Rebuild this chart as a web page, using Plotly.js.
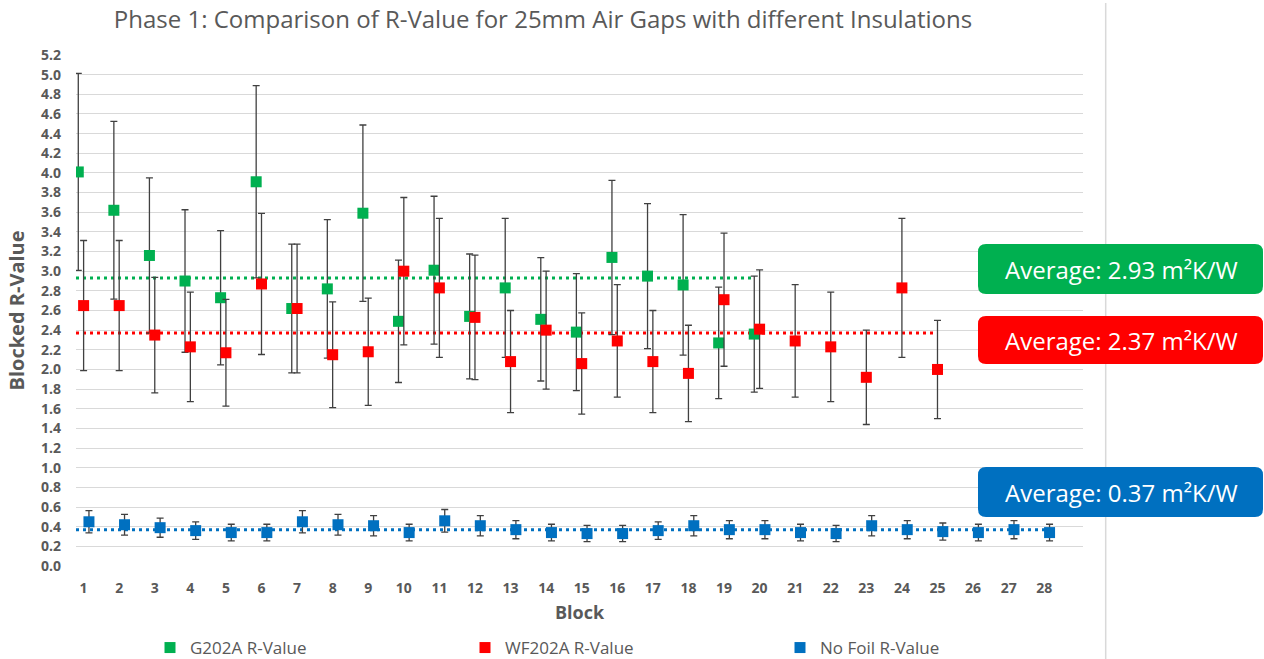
<!DOCTYPE html>
<html>
<head>
<meta charset="utf-8">
<script src="https://cdn.plot.ly/plotly-3.0.1.min.js"></script>
<style>html,body{margin:0;padding:0;background:#fff;}#chart{width:1264px;height:659px;}</style>
</head>
<body>
<div id="chart"></div>
<script>
// ---- data ----
const blocks = [1,2,3,4,5,6,7,8,9,10,11,12,13,14,15,16,17,18,19,20,21,22,23,24,25,26,27,28];
const tickLabels = ["1","2","3","4","5","6","7","8","9","10","11","12","13","14","15","16","17","18","19","20","21","22","23","24","25","26","27","28"];
const g202a = [4.01,3.62,3.16,2.90,2.73,3.91,2.62,2.82,3.59,2.49,3.01,2.54,2.83,2.51,2.38,3.14,2.95,2.86,2.27,2.36];
const wf202a = [2.65,2.65,2.35,2.23,2.17,2.87,2.62,2.15,2.18,3.00,2.83,2.53,2.08,2.40,2.06,2.29,2.08,1.96,2.71,2.41,2.29,2.23,1.92,2.83,2.00];
const noFoil = [0.45,0.42,0.39,0.36,0.34,0.34,0.45,0.42,0.41,0.34,0.46,0.41,0.37,0.34,0.33,0.33,0.36,0.41,0.37,0.37,0.34,0.33,0.41,0.37,0.35,0.34,0.37,0.34];
const errorPercent = 25;
const avgG202A = 2.93, avgWF202A = 2.37, avgNoFoil = 0.37;
const seriesNames = ["G202A R-Value","WF202A R-Value","No Foil R-Value"];
const avgLabels = ["Average: 2.93 m²K/W","Average: 2.37 m²K/W","Average: 0.37 m²K/W"];

// ---- style ----
const GREEN = "#00B050", RED = "#FF0000", BLUE = "#0070C0";
const GRAY = "#595959";
const FONT = "Open Sans, sans-serif";
const XMIN = 0.786, XMAX = 29.09;
const off = [-0.15, 0, 0.15];

function xs(vals, o){ return vals.map((v,i)=>blocks[i]+o); }
function avgLine(vals, o, avg, color){
  const x = xs(vals,o);
  return {x:[XMIN, x[x.length-1]], y:[avg,avg], mode:"lines", type:"scatter", showlegend:false, hoverinfo:"skip",
    line:{color:color, width:3, dash:"3px,4px"}};
}
function series(vals, o, name, color){
  return {x:xs(vals,o), y:vals, name:name, type:"scatter", mode:"markers",
    marker:{symbol:"square", size:11, color:color},
    error_y:{type:"percent", value:errorPercent, color:"#404040", thickness:1.3, width:3.5}};
}

const traces = [
  avgLine(g202a, off[0], avgG202A, GREEN),
  avgLine(wf202a, off[1], avgWF202A, RED),
  avgLine(noFoil, off[2], avgNoFoil, BLUE),
  series(g202a, off[0], seriesNames[0], GREEN),
  series(wf202a, off[1], seriesNames[1], RED),
  series(noFoil, off[2], seriesNames[2], BLUE)
];

// pixel -> paper helpers (plot area: x 76..1083, y 55..566)
const L=76, T=55, W=1007, H=511;
const px = p => (p-L)/W, py = p => (T+H-p)/H;
function roundRect(x0,y0,x1,y1,r){
  return "M"+px(x0+r)+","+py(y0)+" L"+px(x1-r)+","+py(y0)+
    " Q"+px(x1)+","+py(y0)+" "+px(x1)+","+py(y0+r)+
    " L"+px(x1)+","+py(y1-r)+
    " Q"+px(x1)+","+py(y1)+" "+px(x1-r)+","+py(y1)+
    " L"+px(x0+r)+","+py(y1)+
    " Q"+px(x0)+","+py(y1)+" "+px(x0)+","+py(y1-r)+
    " L"+px(x0)+","+py(y0+r)+
    " Q"+px(x0)+","+py(y0)+" "+px(x0+r)+","+py(y0)+" Z";
}
const boxes = [[244,294,GREEN],[316,364,RED],[467,517,BLUE]];
const shapes = [
  {type:"line", xref:"paper", yref:"paper", x0:px(1105.7), x1:px(1105.7), y0:py(3), y1:py(659), line:{color:"#d9d9d9", width:1.5}}
];
const annotations = [];
boxes.forEach((b,i)=>{
  shapes.push({type:"path", xref:"paper", yref:"paper", path:roundRect(978,b[0],1263,b[1],8), fillcolor:b[2], line:{width:0}});
  annotations.push({xref:"paper", yref:"paper", x:px(1121), y:py((b[0]+b[1])/2), text:avgLabels[i], showarrow:false,
    xanchor:"center", yanchor:"middle", font:{family:FONT, size:24, color:"#ffffff"}});
});

const layout = {
  width:1264, height:659,
  margin:{l:L, r:1264-L-W, t:T, b:659-T-H, autoexpand:false},
  paper_bgcolor:"#fff", plot_bgcolor:"#fff",
  showlegend:true,
  title:{text:"Phase 1: Comparison of R-Value for 25mm Air Gaps with different Insulations",
    xref:"container", x:543/1264, xanchor:"center", yref:"container", y:1-20/659, yanchor:"middle",
    font:{family:FONT, size:24, color:GRAY}},
  xaxis:{range:[XMIN,XMAX], tickvals:blocks, ticktext:tickLabels, showgrid:false, zeroline:false, showline:false,
    automargin:false, ticks:"", ticklabelstandoff:12, tickfont:{family:FONT, size:14, color:GRAY, weight:"bold"},
    title:{text:"Block", standoff:10, font:{family:FONT, size:18, color:GRAY, weight:"bold"}}},
  yaxis:{range:[0,5.2], dtick:0.2, tick0:0, tickformat:".1f", showgrid:true, gridcolor:"#d9d9d9", gridwidth:1,
    automargin:false, zeroline:false, showline:false, ticks:"", ticklabelstandoff:14,
    tickfont:{family:FONT, size:14, color:GRAY, weight:"bold"},
    title:{text:"Blocked R-Value", standoff:10, font:{family:FONT, size:20, color:GRAY, weight:"bold"}}},
  legend:{orientation:"h", xref:"container", yref:"container", x:150/1264, y:1-648/659, xanchor:"left", yanchor:"middle",
    entrywidth:270, entrywidthmode:"pixels", itemwidth:30, traceorder:"normal",
    font:{family:FONT, size:17, color:GRAY}},
  shapes:shapes, annotations:annotations
};

Plotly.newPlot("chart", traces, layout, {displayModeBar:false, staticPlot:true});
</script>
</body>
</html>
